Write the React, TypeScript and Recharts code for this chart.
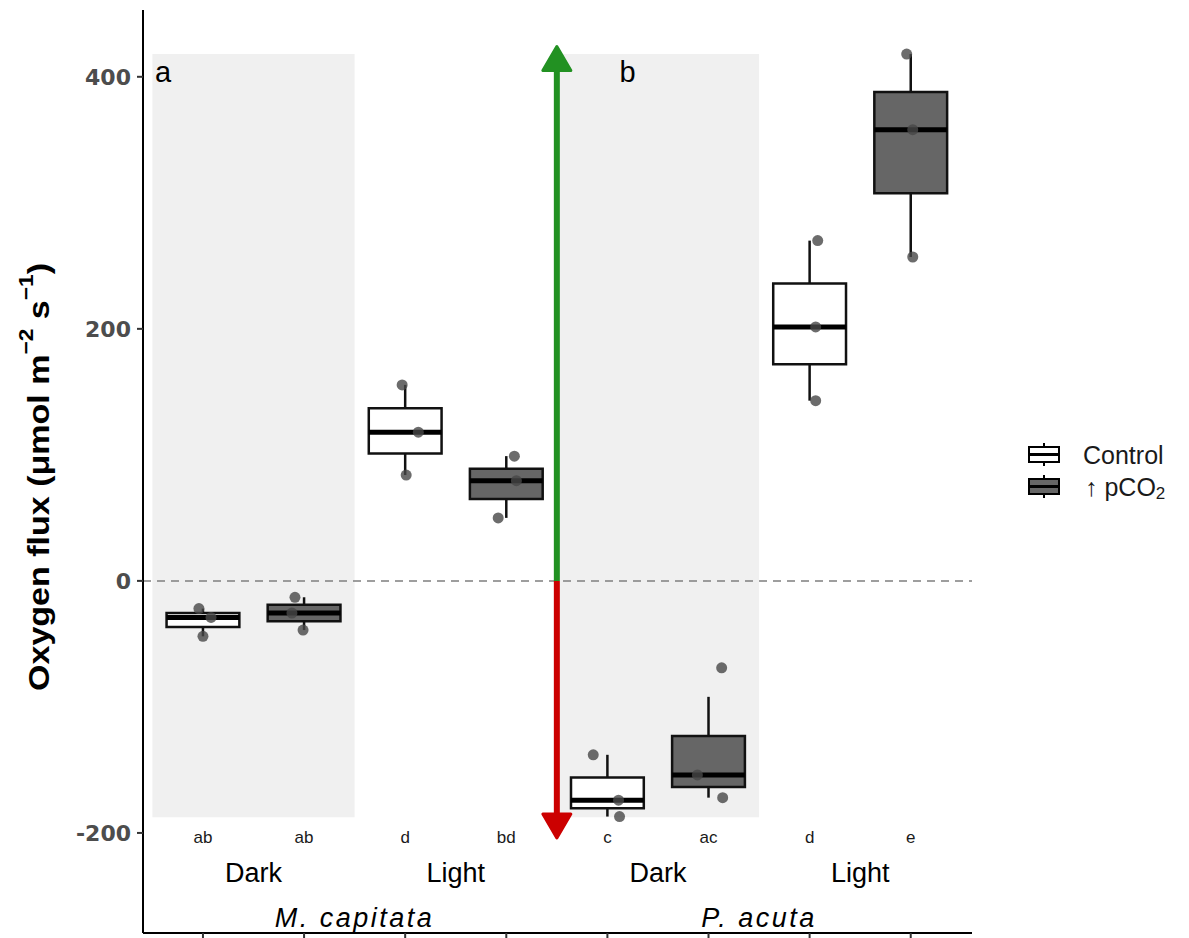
import {
  ComposedChart,
  XAxis,
  YAxis,
  Scatter,
  ReferenceArea,
  ReferenceLine,
  ReferenceDot,
} from "recharts";

/* ── Data ───────────────────────────────────────────────────── */
const SPECIES = ["M. capitata", "P. acuta"];
const LIGHT = ["Dark", "Light", "Dark", "Light"];
const TREATMENTS = ["Control", "↑ pCO2"];
const GROUP_TREATMENT = [0, 1, 0, 1, 0, 1, 0, 1];
const SIG_LETTERS = ["ab", "ab", "d", "bd", "c", "ac", "d", "e"];
const Y_TICKS = [-200, 0, 200, 400];
const PANEL_LABELS = ["a", "b"];

// box statistics per group
const BOX_MIN = [-44, -39, 84, 50, -187, -172, 143, 257];
const BOX_Q1 = [-36.5, -32, 101, 65, -180.5, -163.5, 172, 307.5];
const BOX_MED = [-29, -25.5, 118, 79.5, -174, -154, 201.5, 358];
const BOX_Q3 = [-25.5, -19, 137, 89, -156, -123, 236, 388];
const BOX_MAX = [-22, -13, 155.5, 99, -138, -92, 270, 418];

// raw replicates (3 per group) and their horizontal jitter
const POINT_VALUES = [
  [-22, -29, -44],
  [-13, -25.5, -39],
  [155.5, 118, 84],
  [99, 79.5, 50],
  [-138, -174, -187],
  [-69, -154, -172],
  [270, 201.5, 143],
  [418, 358, 257],
];
const POINT_JITTER = [
  [-0.04, 0.08, 0],
  [-0.09, -0.12, -0.01],
  [-0.03, 0.13, 0.01],
  [0.08, 0.1, -0.08],
  [-0.14, 0.11, 0.12],
  [0.13, -0.11, 0.14],
  [0.08, 0.06, 0.06],
  [-0.04, 0.02, 0.02],
];

/* ── Layout constants ─────────────────────────────── */
const X_DOMAIN = [-0.593, 7.606];
const Y_DOMAIN = [-279.4, 453];
const BOX_HALF = 0.36;
const PANELS = [
  [-0.5, 1.5],
  [3.5, 5.5],
];
const PANEL_Y = [-187.5, 418];
const ARROW_X = 3.5;
const ARROW_UP = 424;
const ARROW_DOWN = -204;
const LETTER_Y = -204;
const LIGHT_Y = -231.5;
const SPECIES_Y = -267.5;
const FILLS = ["#ffffff", "#666666"];
const FONT = "'Liberation Sans', Arial, sans-serif";

const BOXES = BOX_MED.map((med, i) => ({
  i,
  min: BOX_MIN[i],
  q1: BOX_Q1[i],
  med,
  q3: BOX_Q3[i],
  max: BOX_MAX[i],
  fill: FILLS[GROUP_TREATMENT[i]],
}));

const POINTS = POINT_VALUES.flatMap((vals, i) =>
  vals.map((y, k) => ({ x: i + POINT_JITTER[i][k], y }))
);

function Arrow(props: any) {
  const { x1, y1, x2, y2, stroke } = props;
  const dir = y2 < y1 ? -1 : 1;
  const head = 24;
  const half = 14;
  const baseY = y2 - dir * head;
  return (
    <g>
      <line x1={x1} y1={y1} x2={x2} y2={baseY} stroke={stroke} strokeWidth={6} />
      <polygon
        points={`${x2},${y2} ${x2 - half},${baseY} ${x2 + half},${baseY}`}
        fill={stroke}
        stroke={stroke}
        strokeWidth={3}
        strokeLinejoin="round"
      />
    </g>
  );
}

const textAt =
  (txt: string, style: Record<string, any>, anchor = "middle") =>
  (p: any) =>
    (
      <text
        x={p.cx}
        y={p.cy}
        textAnchor={anchor}
        dominantBaseline="central"
        fontFamily={FONT}
        {...style}
      >
        {txt}
      </text>
    );

const YLabel = () => (
  <text
    x={38}
    y={477}
    transform="rotate(-90, 38, 477)"
    textAnchor="middle"
    dominantBaseline="central"
    fontFamily={FONT}
    fontWeight="bold"
    fontSize={30}
    fill="#000"
    textLength={428}
    lengthAdjust="spacingAndGlyphs"
  >
    Oxygen flux (μmol m
    <tspan dy={-12} fontSize={20}>−2</tspan>
    <tspan dy={12}> s</tspan>
    <tspan dy={-12} fontSize={20}>−1</tspan>
    <tspan dy={12}>)</tspan>
  </text>
);

function LegendKey({ y, fill }: { y: number; fill: string }) {
  return (
    <g>
      <line x1={1044} y1={y - 4} x2={1044} y2={y + 19} stroke="#000" strokeWidth={2} />
      <rect x={1029} y={y} width={30} height={15} fill={fill} stroke="#000" strokeWidth={2} />
      <line x1={1029} y1={y + 7.5} x2={1059} y2={y + 7.5} stroke="#000" strokeWidth={3} />
    </g>
  );
}

export default function App() {
  return (
    <div style={{ position: "absolute", left: 0, top: 0, width: 1189, height: 938 }}>
      <ComposedChart
        width={1189}
        height={938}
        margin={{ top: 10, right: 217, bottom: 0, left: 83 }}
      >
        <XAxis
          type="number"
          dataKey="x"
          domain={X_DOMAIN}
          ticks={[0, 1, 2, 3, 4, 5, 6, 7]}
          interval={0}
          allowDataOverflow
          height={5}
          tickSize={5}
          tick={() => <g />}
          axisLine={{ stroke: "#000", strokeWidth: 2 }}
          tickLine={{ stroke: "#333", strokeWidth: 2 }}
        />
        <YAxis
          type="number"
          dataKey="y"
          domain={Y_DOMAIN}
          ticks={Y_TICKS}
          interval={0}
          allowDataOverflow
          width={60}
          tickSize={6}
          tickMargin={6}
          axisLine={{ stroke: "#000", strokeWidth: 2 }}
          tickLine={{ stroke: "#333", strokeWidth: 2 }}
          tick={{
            fill: "#4d4d4d",
            fontSize: 22,
            fontWeight: "bold",
            fontFamily: "'DejaVu Sans', sans-serif",
          }}
          label={{ content: YLabel }}
        />

        {/* shaded Dark panels */}
        {PANELS.map(([a, b], k) => (
          <ReferenceArea
            key={`panel-${k}`}
            x1={a}
            x2={b}
            y1={PANEL_Y[0]}
            y2={PANEL_Y[1]}
            fill="#f0f0f0"
            fillOpacity={1}
            stroke="none"
          />
        ))}

        <ReferenceLine y={0} stroke="#7f7f7f" strokeWidth={1.5} strokeDasharray="8 6" />

        {/* production / respiration arrows */}
        <ReferenceLine
          segment={[
            { x: ARROW_X, y: 0 },
            { x: ARROW_X, y: ARROW_UP },
          ]}
          stroke="#229122"
          shape={Arrow}
        />
        <ReferenceLine
          segment={[
            { x: ARROW_X, y: 0 },
            { x: ARROW_X, y: ARROW_DOWN },
          ]}
          stroke="#cc0000"
          shape={Arrow}
        />

        {/* whiskers */}
        {BOXES.map((b) => (
          <ReferenceLine
            key={`wl-${b.i}`}
            segment={[
              { x: b.i, y: b.min },
              { x: b.i, y: b.q1 },
            ]}
            stroke="#111"
            strokeWidth={2.5}
          />
        ))}
        {BOXES.map((b) => (
          <ReferenceLine
            key={`wu-${b.i}`}
            segment={[
              { x: b.i, y: b.q3 },
              { x: b.i, y: b.max },
            ]}
            stroke="#111"
            strokeWidth={2.5}
          />
        ))}

        {/* boxes */}
        {BOXES.map((b) => (
          <ReferenceArea
            key={`box-${b.i}`}
            x1={b.i - BOX_HALF}
            x2={b.i + BOX_HALF}
            y1={b.q1}
            y2={b.q3}
            fill={b.fill}
            fillOpacity={1}
            stroke="#111"
            strokeWidth={2.5}
          />
        ))}

        {/* medians */}
        {BOXES.map((b) => (
          <ReferenceLine
            key={`med-${b.i}`}
            segment={[
              { x: b.i - BOX_HALF, y: b.med },
              { x: b.i + BOX_HALF, y: b.med },
            ]}
            stroke="#000"
            strokeWidth={5}
          />
        ))}

        <Scatter
          data={POINTS}
          isAnimationActive={false}
          shape={(p: any) => (
            <circle cx={p.cx} cy={p.cy} r={5.5} fill="#474747" fillOpacity={0.8} />
          )}
        />

        {/* annotations */}
        {SIG_LETTERS.map((t, i) => (
          <ReferenceDot
            key={`sig-${i}`}
            x={i}
            y={LETTER_Y}
            r={0}
            shape={textAt(t, { fontSize: 17, fill: "#1a1a1a" })}
          />
        ))}
        {LIGHT.map((t, k) => (
          <ReferenceDot
            key={`light-${k}`}
            x={k * 2 + 0.5}
            y={LIGHT_Y}
            r={0}
            shape={textAt(t, { fontSize: 27, fill: "#000" })}
          />
        ))}
        {SPECIES.map((t, k) => (
          <ReferenceDot
            key={`sp-${k}`}
            x={k * 4 + 1.5}
            y={SPECIES_Y}
            r={0}
            shape={textAt(t, {
              fontSize: 27,
              fill: "#000",
              fontStyle: "italic",
              letterSpacing: 2.5,
            })}
          />
        ))}
        {PANEL_LABELS.map((t, k) => (
          <ReferenceDot
            key={`pl-${k}`}
            x={k === 0 ? -0.475 : 4.12}
            y={404}
            r={0}
            shape={textAt(t, { fontSize: 29, fill: "#000" }, "start")}
          />
        ))}
      </ComposedChart>

      {/* legend */}
      <svg
        width={1189}
        height={938}
        style={{ position: "absolute", left: 0, top: 0, pointerEvents: "none" }}
      >
        <LegendKey y={447} fill={FILLS[0]} />
        <LegendKey y={479} fill={FILLS[1]} />
        <text x={1083} y={455} dominantBaseline="central" fontFamily={FONT} fontSize={25} fill="#1a1a1a">
          {TREATMENTS[0]}
        </text>
        <text x={1085} y={487} dominantBaseline="central" fontFamily={FONT} fontSize={25} fill="#1a1a1a">
          {TREATMENTS[1].slice(0, -1)}
          <tspan dy={6} fontSize={17}>
            {TREATMENTS[1].slice(-1)}
          </tspan>
        </text>
      </svg>
    </div>
  );
}
